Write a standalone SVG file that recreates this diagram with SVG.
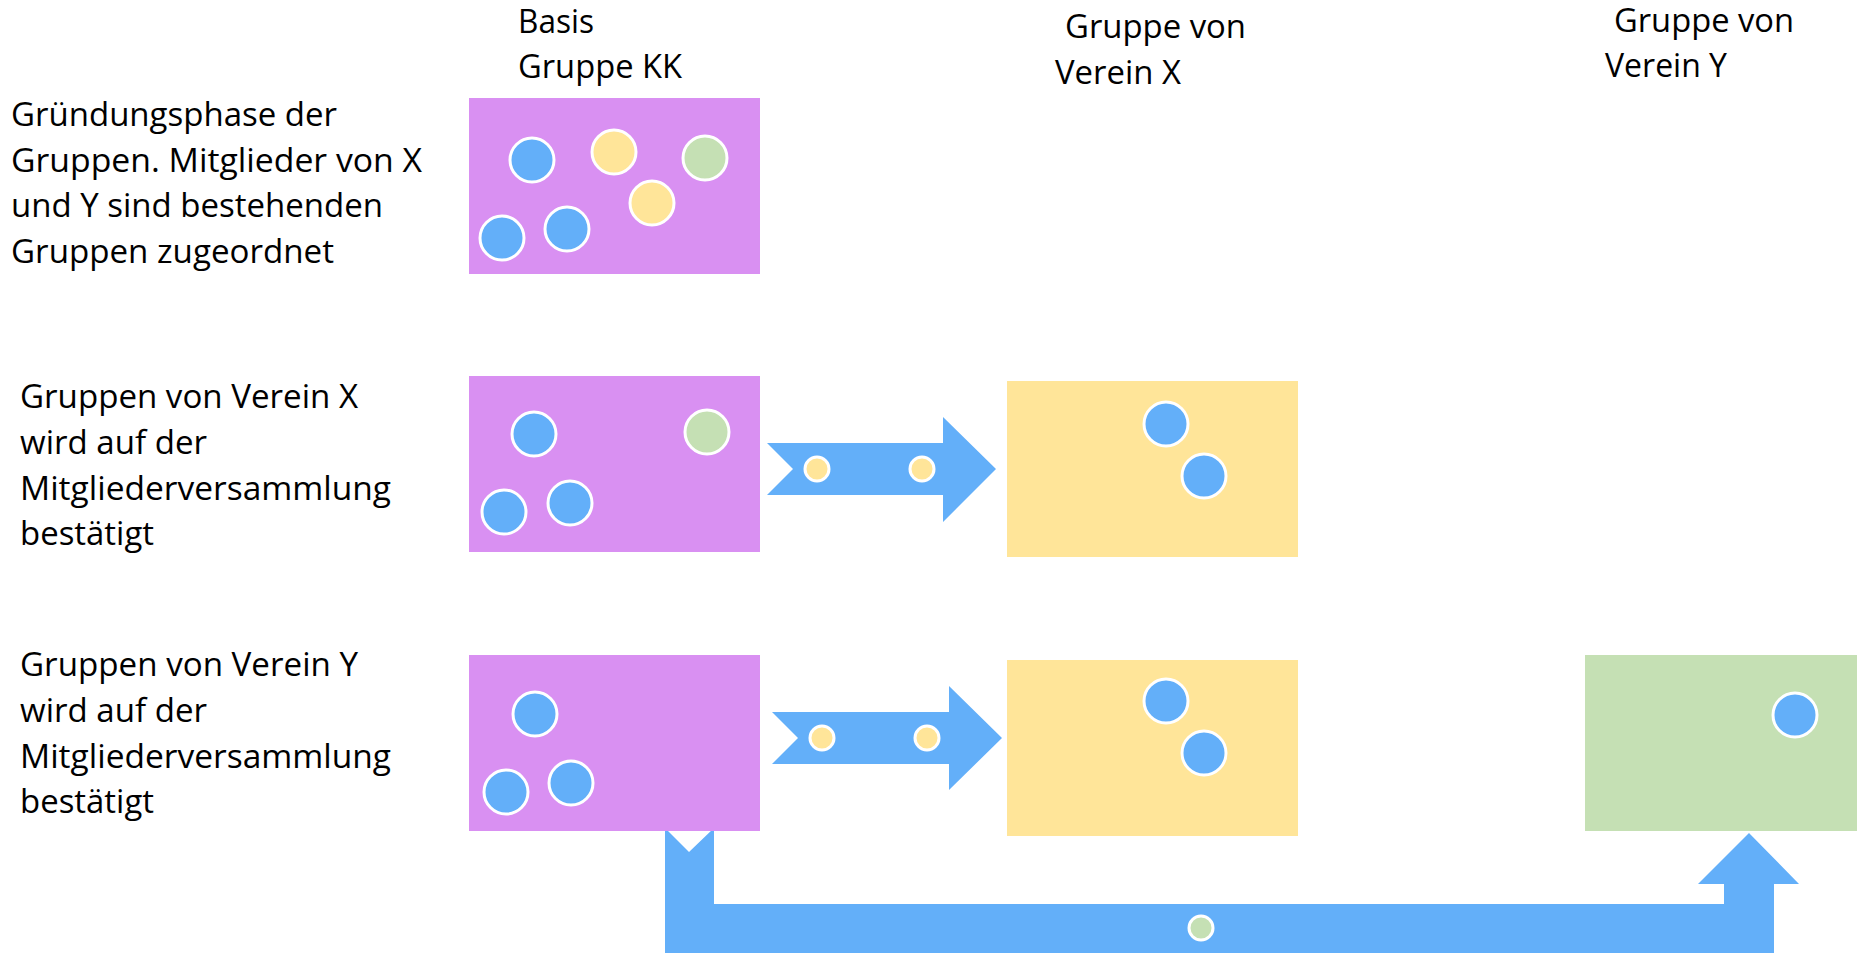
<svg xmlns="http://www.w3.org/2000/svg" width="1857" height="956" viewBox="0 0 1857 956">
<style>
text{font-family:"Open Sans","Liberation Sans",sans-serif;font-size:32px;fill:#000}
.kk{fill:#D990F2}
.vx{fill:#FFE599}
.vy{fill:#C5E0B4}
.arrow{fill:#63AFF9}
.m{stroke:#fff;stroke-width:3}
.b{fill:#63AFF9}
.y{fill:#FFE599}
.g{fill:#C5E0B4}
</style>
<rect width="1857" height="956" fill="#fff"/>
<g id="headers">
<text x="518" y="33" textLength="76" lengthAdjust="spacingAndGlyphs">Basis</text>
<text x="518" y="78" textLength="164" lengthAdjust="spacingAndGlyphs">Gruppe KK</text>
<text x="1065" y="38" textLength="181" lengthAdjust="spacingAndGlyphs">Gruppe von</text>
<text x="1055" y="84" textLength="126" lengthAdjust="spacingAndGlyphs">Verein X</text>
<text x="1614" y="32" textLength="180" lengthAdjust="spacingAndGlyphs">Gruppe von</text>
<text x="1605" y="77" textLength="122" lengthAdjust="spacingAndGlyphs">Verein Y</text>
</g>
<g id="label-row1">
<text x="11" y="126" textLength="326" lengthAdjust="spacingAndGlyphs">Gründungsphase der</text>
<text x="11" y="172" textLength="411" lengthAdjust="spacingAndGlyphs">Gruppen. Mitglieder von X</text>
<text x="11" y="217" textLength="372" lengthAdjust="spacingAndGlyphs">und Y sind bestehenden</text>
<text x="11" y="263" textLength="323" lengthAdjust="spacingAndGlyphs">Gruppen zugeordnet</text>
</g>
<g id="label-row2">
<text x="20" y="408" textLength="338" lengthAdjust="spacingAndGlyphs">Gruppen von Verein X</text>
<text x="20" y="454" textLength="187" lengthAdjust="spacingAndGlyphs">wird auf der</text>
<text x="20" y="500" textLength="371" lengthAdjust="spacingAndGlyphs">Mitgliederversammlung</text>
<text x="20" y="545" textLength="134" lengthAdjust="spacingAndGlyphs">bestätigt</text>
</g>
<g id="label-row3">
<text x="20" y="676" textLength="338" lengthAdjust="spacingAndGlyphs">Gruppen von Verein Y</text>
<text x="20" y="722" textLength="187" lengthAdjust="spacingAndGlyphs">wird auf der</text>
<text x="20" y="768" textLength="371" lengthAdjust="spacingAndGlyphs">Mitgliederversammlung</text>
<text x="20" y="813" textLength="134" lengthAdjust="spacingAndGlyphs">bestätigt</text>
</g>
<g id="connectors">
<g id="arrow-row2">
<path class="arrow" d="M767,443 L943,443 L943,417 L996,469 L943,522 L943,495 L767,495 L793,469 Z"/>
<circle class="y m" cx="817" cy="469" r="12"/>
<circle class="y m" cx="922" cy="469" r="12"/>
</g>
<g id="arrow-row3">
<path class="arrow" d="M772,712 L949,712 L949,686 L1002,738 L949,790 L949,764 L772,764 L798,738 Z"/>
<circle class="y m" cx="822" cy="738" r="12"/>
<circle class="y m" cx="927" cy="738" r="12"/>
</g>
<g id="arrow-bottom">
<path class="arrow" d="M665,828 L689,852 L714,828 L714,904 L1724,904 L1724,884 L1698,884 L1749,833 L1799,884 L1774,884 L1774,953 L665,953 Z"/>
<circle class="g m" cx="1201" cy="928" r="12"/>
</g>
</g>
<g id="kk-row1">
<rect class="kk" x="469" y="98" width="291" height="176"/>
<circle class="b m" cx="532" cy="160" r="22"/>
<circle class="y m" cx="614" cy="152" r="22"/>
<circle class="g m" cx="705" cy="158" r="22"/>
<circle class="y m" cx="652" cy="203" r="22"/>
<circle class="b m" cx="567" cy="229" r="22"/>
<circle class="b m" cx="502" cy="238" r="22"/>
</g>
<g id="kk-row2">
<rect class="kk" x="469" y="376" width="291" height="176"/>
<circle class="b m" cx="534" cy="434" r="22"/>
<circle class="g m" cx="707" cy="432" r="22"/>
<circle class="b m" cx="504" cy="512" r="22"/>
<circle class="b m" cx="570" cy="503" r="22"/>
</g>
<g id="vx-row2">
<rect class="vx" x="1007" y="381" width="291" height="176"/>
<circle class="b m" cx="1166" cy="424" r="22"/>
<circle class="b m" cx="1204" cy="476" r="22"/>
</g>
<g id="kk-row3">
<rect class="kk" x="469" y="655" width="291" height="176"/>
<circle class="b m" cx="535" cy="714" r="22"/>
<circle class="b m" cx="506" cy="792" r="22"/>
<circle class="b m" cx="571" cy="783" r="22"/>
</g>
<g id="vx-row3">
<rect class="vx" x="1007" y="660" width="291" height="176"/>
<circle class="b m" cx="1166" cy="701" r="22"/>
<circle class="b m" cx="1204" cy="753" r="22"/>
</g>
<g id="vy-row3">
<rect class="vy" x="1585" y="655" width="272" height="176"/>
<circle class="b m" cx="1795" cy="715" r="22"/>
</g>
</svg>
